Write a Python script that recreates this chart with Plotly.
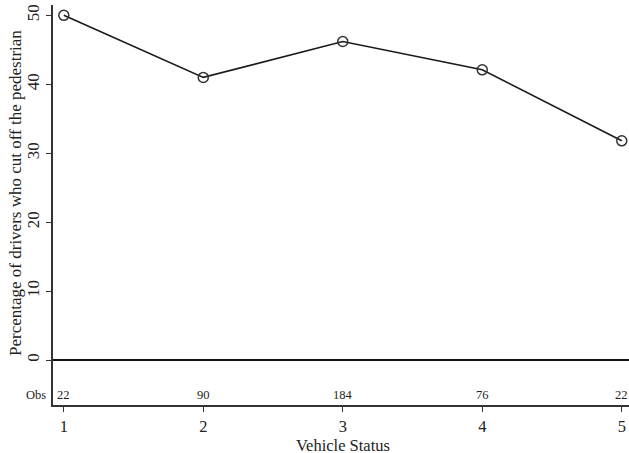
import plotly.graph_objects as go

vehicle_status = [1, 2, 3, 4, 5]
pct_cut_off = [50.0, 41.0, 46.2, 42.1, 31.8]
obs_counts = [22, 90, 184, 76, 22]
y_ticks = [0, 10, 20, 30, 40, 50]

FONT = "Liberation Serif, Times New Roman, serif"

fig = go.Figure()
fig.add_trace(go.Scatter(
    x=vehicle_status, y=pct_cut_off, mode="lines+markers",
    line=dict(color="#1a1a1a", width=1.6),
    marker=dict(symbol="circle-open", size=10, color="#333333", line=dict(width=1.5)),
    showlegend=False, hoverinfo="skip", cliponaxis=False,
))

annotations = []
for xv, n in zip(vehicle_status, obs_counts):
    annotations.append(dict(x=xv, y=-5.1, xref="x", yref="y", text=str(n),
                            showarrow=False, font=dict(family=FONT, size=12.5, color="#222"),
                            xanchor="center", yanchor="middle"))
annotations.append(dict(x=0, y=-5.1, xref="paper", yref="y", text="Obs", showarrow=False,
                        xanchor="right", yanchor="middle", xshift=-5,
                        font=dict(family=FONT, size=12.5, color="#222")))
annotations.append(dict(x=0, y=0.53, xref="paper", yref="paper",
                        text="Percentage of drivers who cut off the pedestrian",
                        textangle=-90, showarrow=False, xanchor="center", yanchor="middle",
                        xshift=-38, font=dict(family=FONT, size=17, color="#222")))
annotations.append(dict(x=3, y=-0.12, xref="x", yref="paper", text="Vehicle Status",
                        showarrow=False, xanchor="center", yanchor="bottom", yshift=-3,
                        borderpad=0,
                        font=dict(family=FONT, size=16.5, color="#222")))

fig.update_layout(
    width=629, height=453, autosize=False,
    margin=dict(l=53, r=0, t=5, b=48),
    paper_bgcolor="white", plot_bgcolor="white",
    font=dict(family=FONT, size=16, color="#222"),
    annotations=annotations,
    xaxis=dict(range=[0.9226, 5.052], tickvals=vehicle_status, ticktext=[str(v) for v in vehicle_status],
               showgrid=False, zeroline=False, showline=True, linecolor="#333", linewidth=1.5,
               ticks="outside", ticklen=5, tickcolor="#333", tickwidth=1.2, automargin=False,
               tickfont=dict(family=FONT, size=16.5)),
    yaxis=dict(range=[-6.52, 51.5], tickvals=y_ticks, showgrid=False, automargin=False,
               zeroline=True, zerolinecolor="#111", zerolinewidth=1.5,
               showline=True, linecolor="#333", linewidth=1.5,
               ticks="outside", ticklen=5, tickcolor="#333", tickwidth=1.2,
               tickangle=-90, tickfont=dict(family=FONT, size=17)),
)

fig.write_html("out.html", config={"displayModeBar": False},
               post_script="document.body.style.margin='0';document.body.style.overflow='hidden';")
